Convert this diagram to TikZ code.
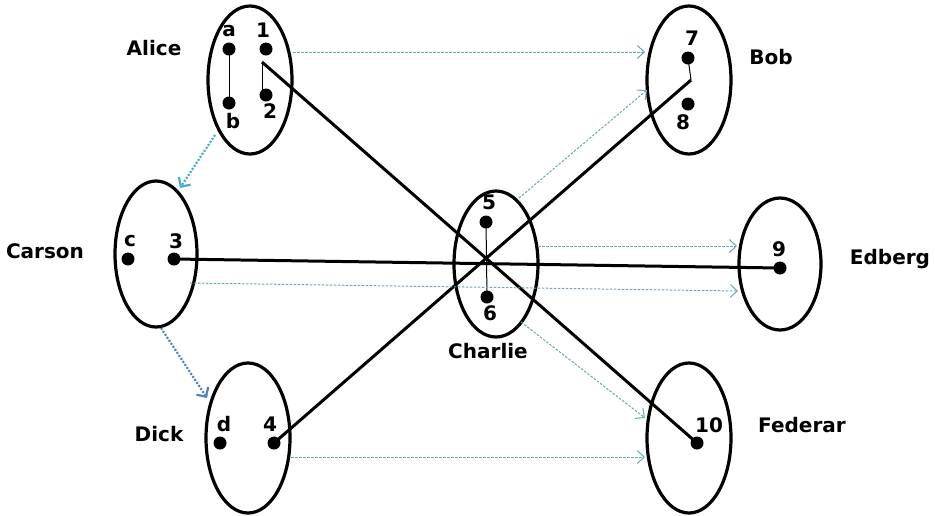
\documentclass[tikz,border=0pt]{standalone}
\usepackage{fontspec}
\setmainfont{DejaVu Sans}
\usetikzlibrary{arrows.meta}
\definecolor{tealdash}{RGB}{110,165,175}
\definecolor{cyandot}{RGB}{75,172,198}
\definecolor{bluedot}{RGB}{79,129,189}
\tikzset{
  grp/.style={line width=3.2pt},
  pt/.style={circle, fill=black, inner sep=0pt, minimum size=13pt},
  lbl/.style={font=\fontsize{20}{24}\selectfont\bfseries, inner sep=0pt},
  thin link/.style={line width=1pt},
  thick link/.style={line width=3pt},
  flow/.style={draw=tealdash, line width=1pt, dash pattern=on 2.5pt off 1.5pt, -{Straight Barb[length=7pt,width=13pt]}},
  dotflow/.style={line width=2.2pt, dash pattern=on 2pt off 1.6pt, -{Straight Barb[length=7pt,width=14pt]}},
}
\begin{document}
\begin{tikzpicture}[x=1pt,y=-1pt]
\useasboundingbox (0,0) rectangle (935,515);
% group ellipses
\draw[grp] (250,80) ellipse [x radius=42, y radius=74];
\draw[grp] (689,80) ellipse [x radius=42, y radius=74];
\draw[grp] (156,254) ellipse [x radius=41, y radius=73];
\draw[grp] (496,264) ellipse [x radius=42, y radius=73];
\draw[grp] (780,264) ellipse [x radius=41, y radius=66];
\draw[grp] (248,438) ellipse [x radius=42, y radius=75];
\draw[grp] (689,438) ellipse [x radius=42, y radius=75];
% anchors on ellipses
\coordinate (aliceR) at (293,52);
\coordinate (aliceBL) at (215,135);
\coordinate (bobL) at (645,52);
\coordinate (bobLL) at (647,90);
\coordinate (carsonTR) at (180,188);
\coordinate (carsonR) at (190,283);
\coordinate (carsonB) at (161,328);
\coordinate (charlieTR) at (519,198);
\coordinate (charlieR) at (538,246);
\coordinate (charlieBR) at (521,322);
\coordinate (edbergL1) at (737,246);
\coordinate (edbergL2) at (738,291);
\coordinate (dickTL) at (207,398);
\coordinate (dickR) at (291,457);
\coordinate (fedL1) at (645,418);
\coordinate (fedL2) at (645,457);
% points
\node[pt] (a) at (229,49) {};
\node[pt] (b) at (229,103) {};
\node[pt] (p1) at (266,49) {};
\node[pt] (p2) at (266,95) {};
\node[pt] (p7) at (688,58) {};
\node[pt] (p8) at (688,104) {};
\node[pt] (c) at (128,259) {};
\node[pt] (p3) at (174,259) {};
\node[pt] (p5) at (486,222) {};
\node[pt] (p6) at (487,297) {};
\node[pt] (d) at (220,443) {};
\node[pt] (p4) at (274,443) {};
\node[pt] (p9) at (780,268) {};
\node[pt] (p10) at (697,443) {};
\coordinate (one) at (262,62);
\coordinate (oneb) at (262,96);
\coordinate (seven) at (691,80);
% point labels
\node[lbl] (la) at (229,31) {a};
\node[lbl] (lb) at (233,121) {b};
\node[lbl] (l1) at (263,30) {1};
\node[lbl] (l2) at (270,111) {2};
\node[lbl] (l7) at (692,38) {7};
\node[lbl] (l8) at (683,122) {8};
\node[lbl] (lc) at (130,241) {c};
\node[lbl] (l3) at (176,241) {3};
\node[lbl] (l5) at (489,202) {5};
\node[lbl] (l6) at (490,313) {6};
\node[lbl] (ld) at (224,424) {d};
\node[lbl] (l4) at (270,424) {4};
\node[lbl] (l9) at (779,249) {9};
\node[lbl] (l10) at (709,425) {10};
% group names
\node[lbl] (alice) at (154,48) {Alice};
\node[lbl] (bob) at (771,57) {Bob};
\node[lbl] (carson) at (45,251) {Carson};
\node[lbl] (charlie) at (488,351) {Charlie};
\node[lbl] (dick) at (159,434) {Dick};
\node[lbl] (edberg) at (890,259) {Edberg};
\node[lbl] (federar) at (802,425) {Federar};
% thin intra links
\draw[thin link] (a.center) -- (b.center);
\draw[thin link] (one) -- (oneb);
\draw[thin link] (p7.center) -- (seven);
\draw[thin link] (p5.center) -- (p6.center);
% thick links
\draw[thick link] (one) -- (p10.center);
\draw[thick link] (p4.center) -- (seven);
\draw[thick link] (p3.center) -- (p9.center);
% flow arrows
\draw[flow] (aliceR) -- (bobL);
\draw[flow] (charlieTR) -- (bobLL);
\draw[flow] (charlieR) -- (edbergL1);
\draw[flow] (carsonR) -- (edbergL2);
\draw[flow] (charlieBR) -- (fedL1);
\draw[flow] (dickR) -- (fedL2);
\draw[dotflow, draw=cyandot] (aliceBL) -- (carsonTR);
\draw[dotflow, draw=bluedot] (carsonB) -- (dickTL);
\end{tikzpicture}
\end{document}
